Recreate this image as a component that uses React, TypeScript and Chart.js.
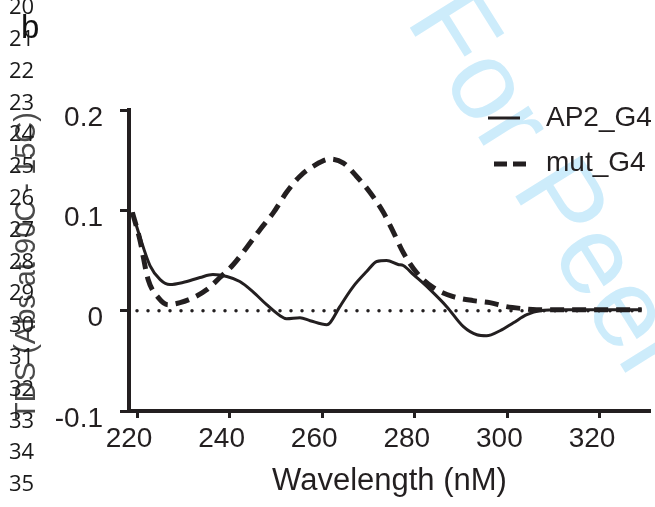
import { useEffect, useRef } from "react";
import { Chart, registerables } from "chart.js";

Chart.register(...registerables);

// ---- data ----
const xTicks = [220, 240, 260, 280, 300, 320];
const yTicks = [-0.1, 0, 0.1, 0.2];
const yTickLabels = ["-0.1", "0", "0.1", "0.2"];

const ap2Wavelength = [219, 220.6, 222.8, 225, 227.1, 229.9, 233.6, 236.4, 239.4, 242.2, 245, 248, 250.9, 252.3, 255.2, 257.4, 261, 261.7, 263.8, 266.7, 269.6, 271.8, 273.9, 276.4, 277.5, 279.7, 283.3, 286.9, 290.5, 293.4, 295.5, 298.4, 301.3, 304.2, 307, 312, 318, 324, 329];
const ap2Values = [0.098, 0.074, 0.045, 0.031, 0.026, 0.028, 0.033, 0.036, 0.034, 0.029, 0.019, 0.006, -0.005, -0.008, -0.007, -0.010, -0.014, -0.012, 0.004, 0.024, 0.039, 0.049, 0.050, 0.046, 0.045, 0.036, 0.021, 0.004, -0.016, -0.024, -0.025, -0.020, -0.012, -0.004, 0.000, 0.001, 0.001, 0.001, 0.001];

const mutWavelength = [219, 220.6, 222.4, 224.6, 226.7, 229.3, 232.2, 235.1, 237.9, 240.8, 243.7, 246.6, 249.5, 252.3, 255.2, 258.1, 261.7, 264.6, 267.4, 270.3, 273.2, 275.4, 277.5, 280.4, 284, 288.3, 292.6, 296.2, 299.8, 303.4, 306.3, 312, 318, 324, 329];
const mutValues = [0.098, 0.071, 0.031, 0.013, 0.006, 0.008, 0.013, 0.021, 0.033, 0.046, 0.063, 0.081, 0.098, 0.118, 0.134, 0.144, 0.151, 0.147, 0.134, 0.118, 0.098, 0.078, 0.058, 0.038, 0.023, 0.014, 0.010, 0.008, 0.004, 0.002, 0.001, 0.001, 0.001, 0.001, 0.001];

const zeroWavelength = [220, 329];
const zeroValues = [0, 0];

const seriesNames = ["AP2_G4", "mut_G4"];
const xTitle = "Wavelength (nM)";
const yTitle = "TDS (Abs at 90C - 15C)";
const panelLabel = "b";
const lineNumbers = [20, 21, 22, 23, 24, 25, 26, 27, 28, 29, 30, 31, 32, 33, 34, 35];
const watermark = "For Peer Review";

const INK = "#231f20";
const FAMILY = "'Liberation Sans', Arial, Helvetica, sans-serif";

const toPoints = (xs: number[], ys: number[]) => xs.map((x, i) => ({ x, y: ys[i] }));

const decorPlugin = {
  id: "decor",
  beforeDraw(chart: any) {
    const ctx = chart.ctx;
    ctx.save();
    ctx.fillStyle = "#ffffff";
    ctx.fillRect(0, 0, chart.width, chart.height);
    ctx.translate(405, 20);
    ctx.rotate((58 * Math.PI) / 180);
    ctx.fillStyle = "#cdecfb";
    ctx.font = `112px ${FAMILY}`;
    ctx.textBaseline = "alphabetic";
    ctx.textAlign = "left";
    ctx.fillText(watermark, 0, 0);
    ctx.restore();
  },
  afterDraw(chart: any) {
    const ctx = chart.ctx;
    ctx.save();
    // legend
    ctx.strokeStyle = INK;
    ctx.lineWidth = 3;
    ctx.setLineDash([]);
    ctx.beginPath();
    ctx.moveTo(488, 118);
    ctx.lineTo(520, 118);
    ctx.stroke();
    ctx.lineWidth = 5;
    ctx.setLineDash([13, 6]);
    ctx.beginPath();
    ctx.moveTo(494, 164);
    ctx.lineTo(527, 164);
    ctx.stroke();
    ctx.setLineDash([]);
    ctx.fillStyle = INK;
    ctx.font = `28px ${FAMILY}`;
    ctx.textAlign = "left";
    ctx.textBaseline = "alphabetic";
    ctx.fillText(seriesNames[0], 546, 126);
    ctx.fillText(seriesNames[1], 546, 171);

    // y title
    ctx.save();
    ctx.translate(27, 266);
    ctx.rotate(-Math.PI / 2);
    ctx.fillStyle = "#4a4a4a";
    ctx.font = `29px ${FAMILY}`;
    ctx.textAlign = "center";
    ctx.textBaseline = "middle";
    ctx.fillText(yTitle, 0, 0);
    ctx.restore();

    // panel label
    ctx.fillStyle = "#111";
    ctx.font = `33px ${FAMILY}`;
    ctx.textAlign = "left";
    ctx.textBaseline = "alphabetic";
    ctx.fillText(panelLabel, 21, 38);

    // line numbers
    ctx.fillStyle = "#1a1a1a";
    ctx.font = `22px 'Open Sans', 'Noto Sans', sans-serif`;
    ctx.textBaseline = "middle";
    lineNumbers.forEach((n, i) => {
      ctx.fillText(String(n), 9, 8 + i * 31.8);
    });
    ctx.restore();
  },
};

export default function App() {
  const canvasRef = useRef<HTMLCanvasElement | null>(null);

  useEffect(() => {
    document.body.style.margin = "0";
    const canvas = canvasRef.current;
    if (!canvas) return;
    const chart = new Chart(canvas, {
      type: "line",
      data: {
        datasets: [
          {
            label: seriesNames[0],
            data: toPoints(ap2Wavelength, ap2Values),
            borderColor: INK,
            borderWidth: 3,
            pointRadius: 0,
            fill: false,
            cubicInterpolationMode: "monotone",
          },
          {
            label: seriesNames[1],
            data: toPoints(mutWavelength, mutValues),
            borderColor: INK,
            borderWidth: 5,
            borderDash: [14, 8],
            pointRadius: 0,
            fill: false,
            cubicInterpolationMode: "monotone",
          },
          {
            label: "zero",
            data: toPoints(zeroWavelength, zeroValues),
            borderColor: INK,
            borderWidth: 3.5,
            borderDash: [0, 11],
            borderCapStyle: "round",
            pointRadius: 0,
            fill: false,
          },
        ],
      },
      options: {
        responsive: false,
        animation: false,
        devicePixelRatio: 1,
        layout: { padding: { top: 110, right: 5, left: 0, bottom: 0 } },
        plugins: {
          legend: { display: false },
          tooltip: { enabled: false },
        },
        scales: {
          x: {
            type: "linear",
            min: 218.27,
            max: 330.8,
            afterBuildTicks: (s: any) => {
              s.ticks = xTicks.map((v) => ({ value: v }));
            },
            afterFit: (s: any) => {
              s.height = 96;
            },
            ticks: {
              autoSkip: false,
              maxRotation: 0,
              minRotation: 0,
              padding: 4,
              labelOffset: -8,
              color: INK,
              font: { size: 28, family: FAMILY },
              callback: (v: any) => String(v),
            },
            grid: {
              display: true,
              drawOnChartArea: false,
              drawTicks: true,
              tickLength: 7,
              tickWidth: 3,
              tickColor: INK,
            },
            border: { display: true, width: 4, color: INK },
            title: {
              display: true,
              text: xTitle,
              color: INK,
              font: { size: 31, family: FAMILY },
              padding: { top: 0, bottom: 7 },
            },
          },
          y: {
            type: "linear",
            min: -0.1,
            max: 0.2,
            afterBuildTicks: (s: any) => {
              s.ticks = yTicks.map((v) => ({ value: v }));
            },
            afterFit: (s: any) => {
              s.width = 129;
            },
            ticks: {
              padding: 17,
              labelOffset: 8,
              color: INK,
              font: { size: 28, family: FAMILY },
              callback: (v: any) => {
                const i = yTicks.findIndex((t) => Math.abs(t - v) < 1e-9);
                return i >= 0 ? yTickLabels[i] : "";
              },
            },
            grid: {
              display: true,
              drawOnChartArea: false,
              drawTicks: true,
              tickLength: 9,
              tickWidth: 3,
              tickColor: INK,
            },
            border: { display: true, width: 4, color: INK },
          },
        },
      },
      plugins: [decorPlugin],
    } as any);
    return () => chart.destroy();
  }, []);

  return (
    <div style={{ width: 655, height: 507, position: "relative" }}>
      <canvas ref={canvasRef} width={655} height={507} style={{ display: "block", width: 655, height: 507 }} />
    </div>
  );
}
